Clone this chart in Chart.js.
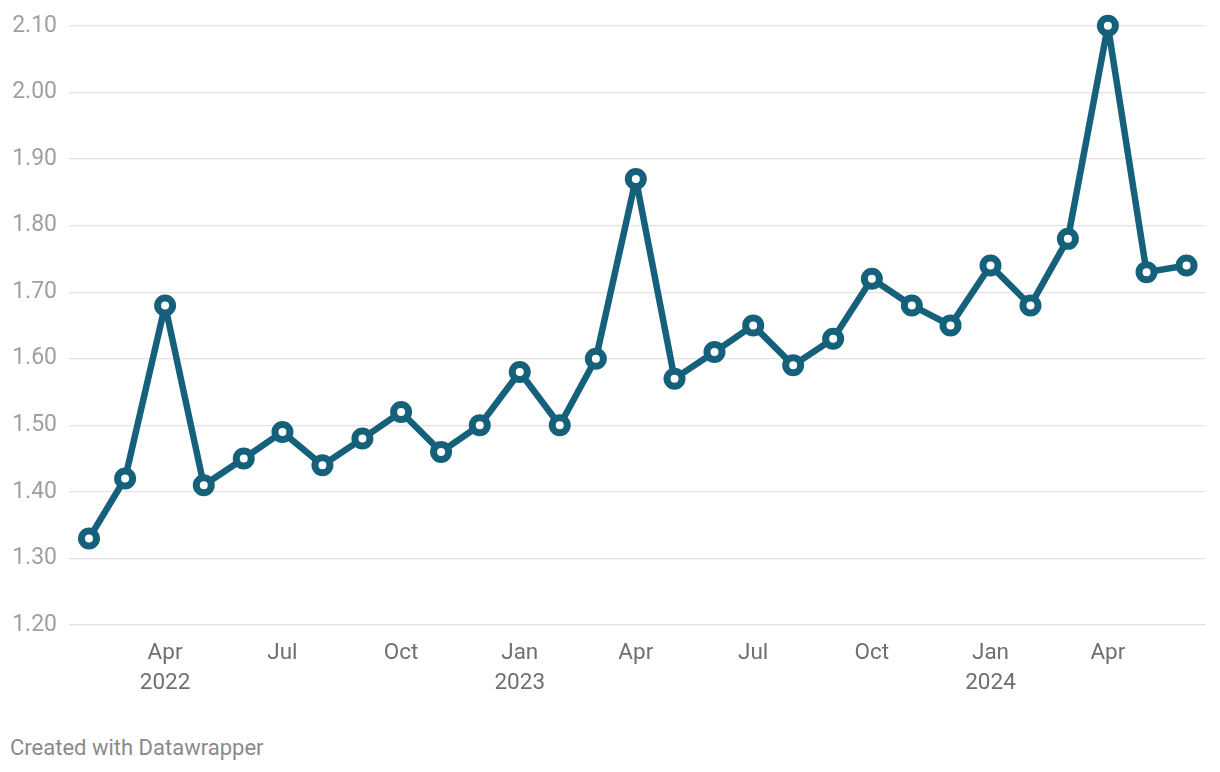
<!DOCTYPE html>
<html>
<head>
<meta charset="utf-8">
<script src="https://cdn.jsdelivr.net/npm/chart.js@4"></script>
<style>
  html, body { margin: 0; padding: 0; background: #fff; }
  body { width: 1220px; height: 772px; overflow: hidden; font-family: Roboto, sans-serif; }
  #wrap { position: relative; width: 1220px; height: 712px; }
  #footer { position: absolute; left: 10px; top: 737px; font-size: 22px; line-height: 22px; color: #8a8a8a; }
</style>
</head>
<body>
<div id="wrap"><canvas id="lineChart"></canvas></div>
<div id="footer">Created with Datawrapper</div>
<script>
// Monthly values, Feb 2022 - Jun 2024 (first of each month)
const months = [
  "2022-02", "2022-03", "2022-04", "2022-05", "2022-06", "2022-07",
  "2022-08", "2022-09", "2022-10", "2022-11", "2022-12",
  "2023-01", "2023-02", "2023-03", "2023-04", "2023-05", "2023-06",
  "2023-07", "2023-08", "2023-09", "2023-10", "2023-11", "2023-12",
  "2024-01", "2024-02", "2024-03", "2024-04", "2024-05", "2024-06"
];
const values = [
  1.33, 1.42, 1.68, 1.41, 1.45, 1.49, 1.44, 1.48, 1.52, 1.46, 1.50,
  1.58, 1.50, 1.60, 1.87, 1.57, 1.61, 1.65, 1.59, 1.63, 1.72, 1.68, 1.65,
  1.74, 1.68, 1.78, 2.10, 1.73, 1.74
];
// x axis ticks (month) and their labels
const tickMonths = ["2022-04", "2022-07", "2022-10", "2023-01", "2023-04", "2023-07", "2023-10", "2024-01", "2024-04"];
const tickText = [["Apr", "2022"], "Jul", "Oct", ["Jan", "2023"], "Apr", "Jul", "Oct", ["Jan", "2024"], "Apr"];
const yMin = 1.2;
const yMax = 2.1;

const lineColor = "#15607a";

// days since the first month, so spacing follows the calendar
const DAY = 86400000;
function dayOf(m) {
  const [y, mo] = m.split("-").map(Number);
  return (Date.UTC(y, mo - 1, 1) - Date.UTC(2022, 1, 1)) / DAY;
}
const points = months.map((m, i) => ({ x: dayOf(m), y: values[i] }));
const tickDays = tickMonths.map(dayOf);
const lastDay = dayOf(months[months.length - 1]);

new Chart(document.getElementById("lineChart"), {
  type: "line",
  data: {
    datasets: [{
      data: points,
      borderColor: lineColor,
      borderWidth: 6.5,
      borderJoinStyle: "round",
      borderCapStyle: "round",
      tension: 0,
      pointRadius: 7.5,
      pointHoverRadius: 7.5,
      pointBorderWidth: 7,
      pointBackgroundColor: "#fff",
      pointBorderColor: lineColor,
      clip: false
    }]
  },
  options: {
    responsive: true,
    maintainAspectRatio: false,
    animation: false,
    layout: { padding: { top: 25, right: 14, left: 0, bottom: 0 } },
    plugins: { legend: { display: false }, tooltip: { enabled: false } },
    scales: {
      x: {
        type: "linear",
        min: -15.5,
        max: lastDay + 14.7,
        grid: { display: false },
        border: { display: false },
        afterBuildTicks: function (scale) {
          scale.ticks = tickDays.map((d) => ({ value: d }));
        },
        ticks: {
          autoSkip: false,
          maxRotation: 0,
          padding: 5,
          color: "#6f6f6f",
          font: { family: "Roboto", size: 22.5, lineHeight: 1.33 },
          callback: function (value) {
            const i = tickDays.indexOf(value);
            return i >= 0 ? tickText[i] : "";
          }
        },
        afterFit: function (scale) { scale.height = 87; }
      },
      y: {
        min: yMin,
        max: yMax,
        grid: { color: "#e2e2e2", lineWidth: 1.2, drawTicks: false },
        border: { display: false },
        ticks: {
          stepSize: 0.1,
          padding: 12,
          color: "#a0a0a0",
          font: { family: "Roboto", size: 23 },
          callback: function (value) { return value.toFixed(2); }
        },
        afterFit: function (scale) { scale.width = 69; }
      }
    }
  }
});
</script>
</body>
</html>
